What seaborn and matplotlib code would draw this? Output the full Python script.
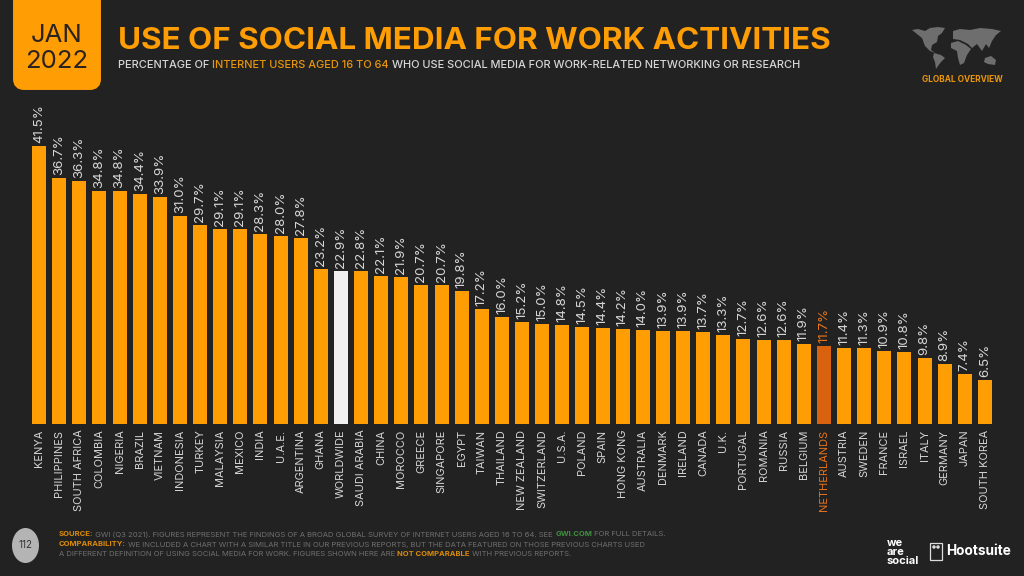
import matplotlib
matplotlib.use("Agg")
import matplotlib.pyplot as plt
import matplotlib.patches as mpatches
import seaborn as sns

# Dati
paesi = ["KENYA", "PHILIPPINES", "SOUTH AFRICA", "COLOMBIA", "NIGERIA", "BRAZIL", "VIETNAM", "INDONESIA",
         "TURKEY", "MALAYSIA", "MEXICO", "INDIA", "U.A.E.", "ARGENTINA", "GHANA", "WORLDWIDE",
         "SAUDI ARABIA", "CHINA", "MOROCCO", "GREECE", "SINGAPORE", "EGYPT", "TAIWAN", "THAILAND",
         "NEW ZEALAND", "SWITZERLAND", "U.S.A.", "POLAND", "SPAIN", "HONG KONG", "AUSTRALIA", "DENMARK",
         "IRELAND", "CANADA", "U.K.", "PORTUGAL", "ROMANIA", "RUSSIA", "BELGIUM", "NETHERLANDS",
         "AUSTRIA", "SWEDEN", "FRANCE", "ISRAEL", "ITALY", "GERMANY", "JAPAN", "SOUTH KOREA"]

valori = [41.5, 36.7, 36.3, 34.8, 34.8, 34.4, 33.9, 31.0,
          29.7, 29.1, 29.1, 28.3, 28.0, 27.8, 23.2, 22.9,
          22.8, 22.1, 21.9, 20.7, 20.7, 19.8, 17.2, 16.0,
          15.2, 15.0, 14.8, 14.5, 14.4, 14.2, 14.0, 13.9,
          13.9, 13.7, 13.3, 12.7, 12.6, 12.6, 11.9, 11.7,
          11.4, 11.3, 10.9, 10.8, 9.8, 8.9, 7.4, 6.5]

# Colori
sfondo = "#222222"
arancio = "#ff9d05"
bianco = "#f0f0f0"
scuro = "#d9620f"
testo = "#d6d6d6"

colori = {p: arancio for p in paesi}
colori["WORLDWIDE"] = bianco
colori["NETHERLANDS"] = scuro

plt.rcParams["font.family"] = ["Inter", "DejaVu Sans"]

# Creazione del grafico
fig = plt.figure(figsize=(10.24, 5.76), dpi=100, facecolor=sfondo)

# Asse delle barre
ax = fig.add_axes([29 / 1024, 1 - 424 / 576, 966 / 1024, 278 / 576], facecolor=sfondo)
sns.barplot(x=paesi, y=valori, hue=paesi, palette=colori, legend=False, width=0.7, saturation=1, ax=ax)
plt.xlim(-0.5, 47.5)
plt.ylim(0, 41.5)

# Etichette dei valori
for i, v in enumerate(valori):
    c = "#e8741a" if paesi[i] == "NETHERLANDS" else testo
    plt.text(i, v + 0.45, f"{v:.1f}%", rotation=90, ha="center", va="bottom", color=c, fontsize=9.6, clip_on=False)

# Etichette dei paesi
plt.xticks(rotation=90, fontsize=7.9, color=testo)
plt.tick_params(axis="x", length=0, pad=4)
for t in ax.get_xticklabels():
    if t.get_text() == "NETHERLANDS":
        t.set_color("#e8741a")
plt.yticks([])
plt.ylabel("")
sns.despine(left=True, bottom=True)

# Asse in pixel per intestazione e piede
top = fig.add_axes([0, 0, 1, 1], facecolor="none")
top.set_xlim(0, 1024)
top.set_ylim(576, 0)
top.axis("off")

# Riquadro della data
top.add_patch(mpatches.FancyBboxPatch((18, -20), 78, 105, boxstyle="round,pad=0,rounding_size=6",
                                      facecolor=arancio, edgecolor=arancio, linewidth=10 / 1.4))
top.text(57, 36, "JAN", ha="center", va="center", fontsize=18.5, color="#2a2320")
top.text(57, 61, "2022", ha="center", va="center", fontsize=18.5, color="#2a2320")

# Titolo e sottotitolo
top.text(118, 41, "USE OF SOCIAL MEDIA FOR WORK ACTIVITIES", ha="left", va="center",
         fontsize=22.6, fontweight="bold", color=arancio)
s1 = top.text(118, 65.5, "PERCENTAGE OF ", ha="left", va="center", fontsize=7.93, fontweight="medium", color=testo)
s2 = top.annotate("INTERNET USERS AGED 16 TO 64 ", xy=(1, 0.5), xycoords=s1, va="center", fontsize=7.93,
                  fontweight="medium", color="#e8950c")
top.annotate("WHO USE SOCIAL MEDIA FOR WORK-RELATED NETWORKING OR RESEARCH", xy=(1, 0.5), xycoords=s2,
             va="center", fontsize=7.93, fontweight="medium", color=testo)

# Mappa del mondo (sagome approssimate)
mappa = [
    [(912, 30), (918, 29), (925, 31), (930, 28), (938, 27), (945, 28), (942, 33), (938, 36), (937, 42),
     (932, 45), (931, 50), (935, 53), (930, 51), (925, 46), (922, 38), (917, 34)],
    [(934, 53), (941, 55), (945, 58), (941, 62), (938, 66), (936, 69), (935, 62), (933, 57)],
    [(953, 31), (960, 29), (970, 30), (980, 28), (992, 29), (1001, 31), (996, 35), (992, 41), (989, 48),
     (986, 44), (982, 51), (977, 44), (972, 48), (968, 44), (960, 40), (953, 39)],
    [(951, 43), (958, 41), (966, 45), (971, 49), (967, 55), (964, 63), (960, 65), (958, 58), (957, 51), (951, 48)],
    [(985, 58), (991, 56), (996, 60), (995, 65), (988, 64), (984, 62)],
]
for forma in mappa:
    top.add_patch(mpatches.Polygon(forma, closed=True, facecolor="#6e6e6e", edgecolor="none"))
top.text(962, 79, "GLOBAL OVERVIEW", ha="center", va="center", fontsize=6, fontweight="bold", color="#e8950c")

# Numero di pagina
top.add_patch(mpatches.Ellipse((25.5, 545.5), 27, 35, facecolor="#b4b4b4", edgecolor="none"))
top.text(25.5, 545.5, "112", ha="center", va="center", fontsize=7, color="#333333")

# Note a piede di pagina
grigio = "#6f6f6f"
dim = 5.5
n1 = top.text(59, 534.5, "SOURCE:", va="center", fontsize=dim, fontweight="bold", color="#d98a0a")
n2 = top.annotate(" GWI (Q3 2021). FIGURES REPRESENT THE FINDINGS OF A BROAD GLOBAL SURVEY OF INTERNET USERS AGED 16 TO 64. SEE ",
                  xy=(1, 0.5), xycoords=n1, va="center", fontsize=dim, color=grigio)
n3 = top.annotate("GWI.COM", xy=(1, 0.5), xycoords=n2, va="center", fontsize=dim, fontweight="bold", color="#3f8f3f")
top.annotate(" FOR FULL DETAILS.", xy=(1, 0.5), xycoords=n3, va="center", fontsize=dim, color=grigio)
n4 = top.text(59, 544.5, "COMPARABILITY:", va="center", fontsize=dim, fontweight="bold", color="#d98a0a")
top.annotate(" WE INCLUDED A CHART WITH A SIMILAR TITLE IN OUR PREVIOUS REPORTS, BUT THE DATA FEATURED ON THOSE PREVIOUS CHARTS USED",
             xy=(1, 0.5), xycoords=n4, va="center", fontsize=dim, color=grigio)
n5 = top.text(59, 554.5, "A DIFFERENT DEFINITION OF USING SOCIAL MEDIA FOR WORK. FIGURES SHOWN HERE ARE ",
              va="center", fontsize=dim, color=grigio)
n6 = top.annotate("NOT COMPARABLE", xy=(1, 0.5), xycoords=n5, va="center", fontsize=dim, fontweight="bold", color="#d98a0a")
top.annotate(" WITH PREVIOUS REPORTS.", xy=(1, 0.5), xycoords=n6, va="center", fontsize=dim, color=grigio)

# Loghi
top.text(887, 543, "we", va="center", fontsize=8, fontweight="bold", color="white")
top.text(887, 552, "are", va="center", fontsize=8, fontweight="bold", color="white")
top.text(887, 561, "social", va="center", fontsize=8, fontweight="bold", color="white")
top.add_patch(mpatches.Rectangle((930, 543), 12, 17, facecolor="none", edgecolor="#dddddd", linewidth=0.9))
top.add_patch(mpatches.Ellipse((934, 547), 3.5, 3.5, facecolor="#dddddd", edgecolor="none"))
top.add_patch(mpatches.Ellipse((938, 547), 3.5, 3.5, facecolor="#dddddd", edgecolor="none"))
top.text(946, 551, "Hootsuite", va="center", fontsize=9.8, fontweight="bold", color="white")

# Salvataggio del grafico
plt.savefig("out.png", dpi=100, facecolor=sfondo)
